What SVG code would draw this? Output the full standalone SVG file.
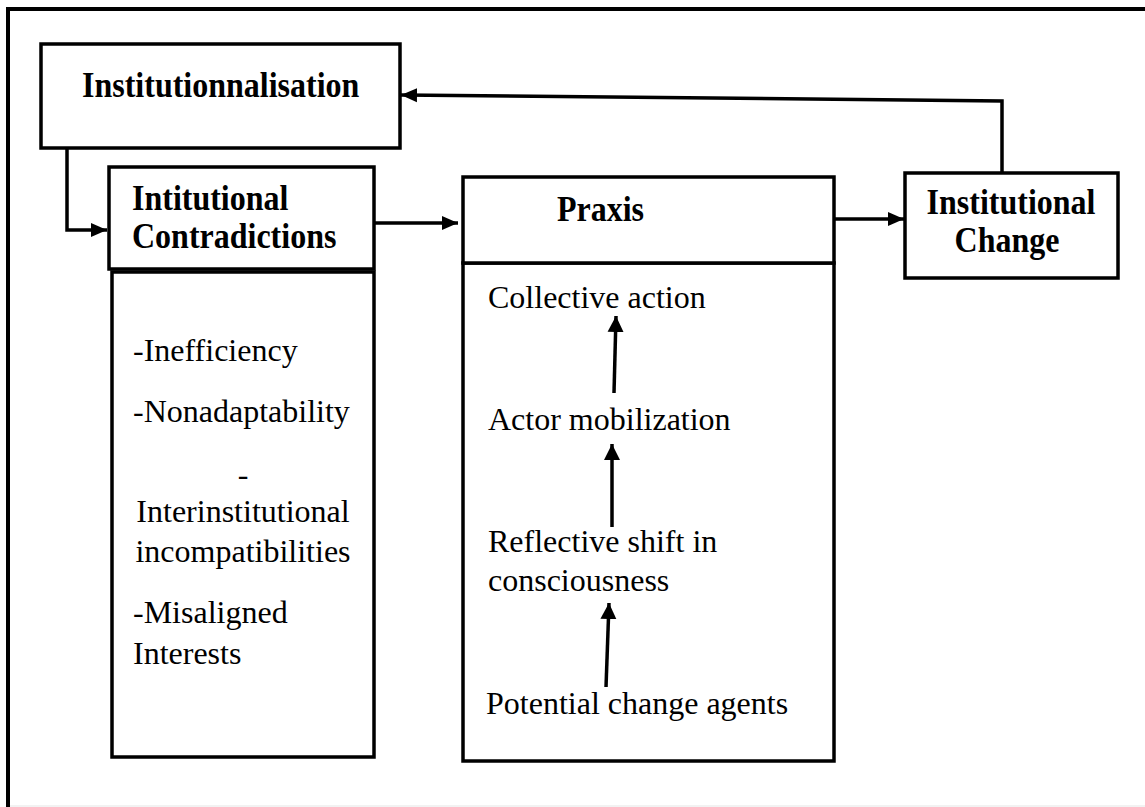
<svg xmlns="http://www.w3.org/2000/svg" width="1145" height="807" viewBox="0 0 1145 807">
  <style>
    .box { fill: #ffffff; stroke: #000000; stroke-width: 3.5; }
    .head { font-family: 'Liberation Serif', 'DejaVu Serif', serif; font-weight: bold; font-size: 32px; fill: #000000; }
    .body { font-family: 'Liberation Serif', 'DejaVu Serif', serif; font-size: 32px; fill: #000000; }
    .wire { fill: none; stroke: #000000; stroke-width: 3.5; }
  </style>
  <defs>
    <marker id="tip" viewBox="0 0 16 16" refX="16" refY="8" markerWidth="16" markerHeight="16" markerUnits="userSpaceOnUse" orient="auto">
      <path d="M0,1 L16,8 L0,15 Z" fill="#000000"/>
    </marker>
    <marker id="tipUp" viewBox="0 0 16 18" refX="16" refY="9" markerWidth="16" markerHeight="18" markerUnits="userSpaceOnUse" orient="auto">
      <path d="M0,1 L16,9 L0,17 Z" fill="#000000"/>
    </marker>
  </defs>

  <rect width="1145" height="807" fill="#ffffff"/>
  <!-- page frame -->
  <path d="M8,812 V9 H1150" fill="none" stroke="#000000" stroke-width="4"/>
  <line x1="10" y1="806" x2="1145" y2="806" stroke="#eeeeee" stroke-width="1.5"/>

  <!-- headings are set slightly taller than wide -->
  <g id="institutionnalisation">
    <rect class="box" x="41" y="44" width="359" height="104"/>
    <text class="head" transform="translate(82,97) scale(1,1.1)">Institutionnalisation</text>
  </g>

  <g id="contradictions">
    <rect class="box" x="112" y="272" width="262" height="485"/>
    <rect class="box" x="109" y="167" width="265" height="102"/>
    <text class="head" transform="translate(132,210) scale(1,1.1)">Intitutional</text>
    <text class="head" transform="translate(132,248) scale(1,1.1)">Contradictions</text>
    <text class="body" x="133" y="361">-Inefficiency</text>
    <text class="body" x="133" y="422">-Nonadaptability</text>
    <text class="body" x="243" y="485" text-anchor="middle">-</text>
    <text class="body" x="243" y="522" text-anchor="middle">Interinstitutional</text>
    <text class="body" x="243" y="562" text-anchor="middle">incompatibilities</text>
    <text class="body" x="133" y="623">-Misaligned</text>
    <text class="body" x="133" y="664">Interests</text>
  </g>

  <g id="praxis">
    <rect class="box" x="463" y="263" width="371" height="498"/>
    <rect class="box" x="463" y="177" width="371" height="86"/>
    <text class="head" transform="translate(557,221) scale(1,1.1)">Praxis</text>
    <text class="body" x="488" y="308">Collective action</text>
    <text class="body" x="488" y="430">Actor mobilization</text>
    <text class="body" x="488" y="552">Reflective shift in</text>
    <text class="body" x="488" y="591">consciousness</text>
    <text class="body" x="486" y="714">Potential change agents</text>
  </g>

  <g id="institutional-change">
    <rect class="box" x="905" y="173" width="213" height="105"/>
    <text class="head" text-anchor="middle" transform="translate(1011,214) scale(1,1.1)">Institutional</text>
    <text class="head" text-anchor="middle" transform="translate(1007,252) scale(1,1.1)">Change</text>
  </g>

  <g id="connectors">
    <!-- Institutionnalisation down to the contradictions -->
    <path class="wire" d="M67,148 V230 H107" marker-end="url(#tip)"/>
    <!-- contradictions to praxis -->
    <path class="wire" d="M374,223 H458" marker-end="url(#tip)"/>
    <!-- praxis to institutional change -->
    <path class="wire" d="M834,219 H904" marker-end="url(#tip)"/>
    <!-- change feeds back to institutionnalisation -->
    <path class="wire" d="M1002,173 V101 L401,95" marker-end="url(#tip)"/>
    <!-- steps inside praxis -->
    <path class="wire" d="M614,393 L616,316" marker-end="url(#tipUp)"/>
    <path class="wire" d="M612,527 L612,444" marker-end="url(#tipUp)"/>
    <path class="wire" d="M606,687 L609,603" marker-end="url(#tipUp)"/>
  </g>
</svg>
